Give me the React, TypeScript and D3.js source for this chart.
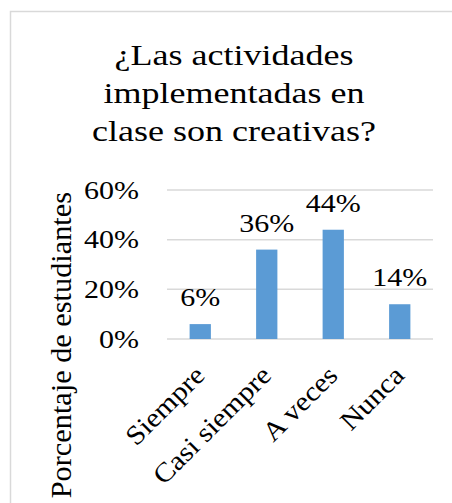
import React, { useLayoutEffect, useRef, useState } from "react";
import * as d3 from "d3";

const titleLines = ["¿Las actividades", "implementadas en", "clase son creativas?"];
const categories = ["Siempre", "Casi siempre", "A veces", "Nunca"];
const values = [0.06, 0.36, 0.44, 0.14];
const yTicks = [0, 0.2, 0.4, 0.6];
const yTitle = "Porcentaje de estudiantes";

const W = 452;
const H = 503;
const SX = 1.2;
const FONT = "Liberation Serif";

function SText(props: {
  s: string;
  x: number;
  y: number;
  size: number;
  anchor: string;
  rot?: number;
  sx?: number;
}) {
  const { s, x, y, size, anchor, rot = 0, sx = SX } = props;
  const ref = useRef<SVGTextElement>(null);
  const [len, setLen] = useState<number | null>(null);
  useLayoutEffect(() => {
    if (ref.current && len === null) {
      setLen(ref.current.getComputedTextLength() * sx);
    }
  }, [len, sx]);
  return (
    <text
      ref={ref}
      x={x}
      y={y}
      transform={rot ? `rotate(${rot},${x},${y})` : undefined}
      textAnchor={anchor}
      fill="#000"
      fontFamily={FONT}
      fontSize={size}
      textLength={len !== null && sx !== 1 ? len : undefined}
      lengthAdjust="spacingAndGlyphs"
    >
      {s}
    </text>
  );
}

export default function App() {
  const y = d3.scaleLinear().domain([0, 0.6]).range([339, 190]);
  const x = d3
    .scaleBand<string>()
    .domain(categories)
    .range([167, 433])
    .paddingInner(0.68)
    .paddingOuter(0.34);
  const fmt = d3.format(".0%");

  return (
    <svg
      width={W}
      height={H}
      style={{ position: "absolute", left: 0, top: 0, background: "#fff" }}
    >
      <rect x={10.5} y={11.5} width={W + 20} height={H + 20} fill="#fff" stroke="#d9d9d9" strokeWidth={1.5} />
      {titleLines.map((l, i) => (
        <SText key={"t" + i} s={l} x={234} y={65 + i * 38} size={30} anchor="middle" />
      ))}
      {yTicks.map((t) => (
        <line
          key={"g" + t}
          x1={167}
          x2={433}
          y1={y(t)}
          y2={y(t)}
          stroke="#d9d9d9"
          strokeWidth={1.5}
        />
      ))}
      {yTicks.map((t) => (
        <SText key={"yl" + t} s={fmt(t)} x={139} y={y(t) + 8.5} size={25} anchor="end" />
      ))}
      {categories.map((c, i) => (
        <rect
          key={"b" + c}
          x={x(c)!}
          y={y(values[i])}
          width={x.bandwidth()}
          height={y(0) - y(values[i])}
          fill="#5b9bd5"
        />
      ))}
      {categories.map((c, i) => (
        <SText
          key={"v" + c}
          s={fmt(values[i])}
          x={x(c)! + x.bandwidth() / 2}
          y={y(values[i]) - 18}
          size={25}
          anchor="middle"
        />
      ))}
      {categories.map((c) => (
        <SText
          key={"c" + c}
          s={c}
          x={x(c)! + x.bandwidth() / 2 + 6}
          y={377}
          size={27}
          anchor="end"
          rot={-45}
          sx={1.1}
        />
      ))}
      <SText s={yTitle} x={71} y={192} size={30.3} anchor="end" rot={-90} sx={1} />
    </svg>
  );
}
